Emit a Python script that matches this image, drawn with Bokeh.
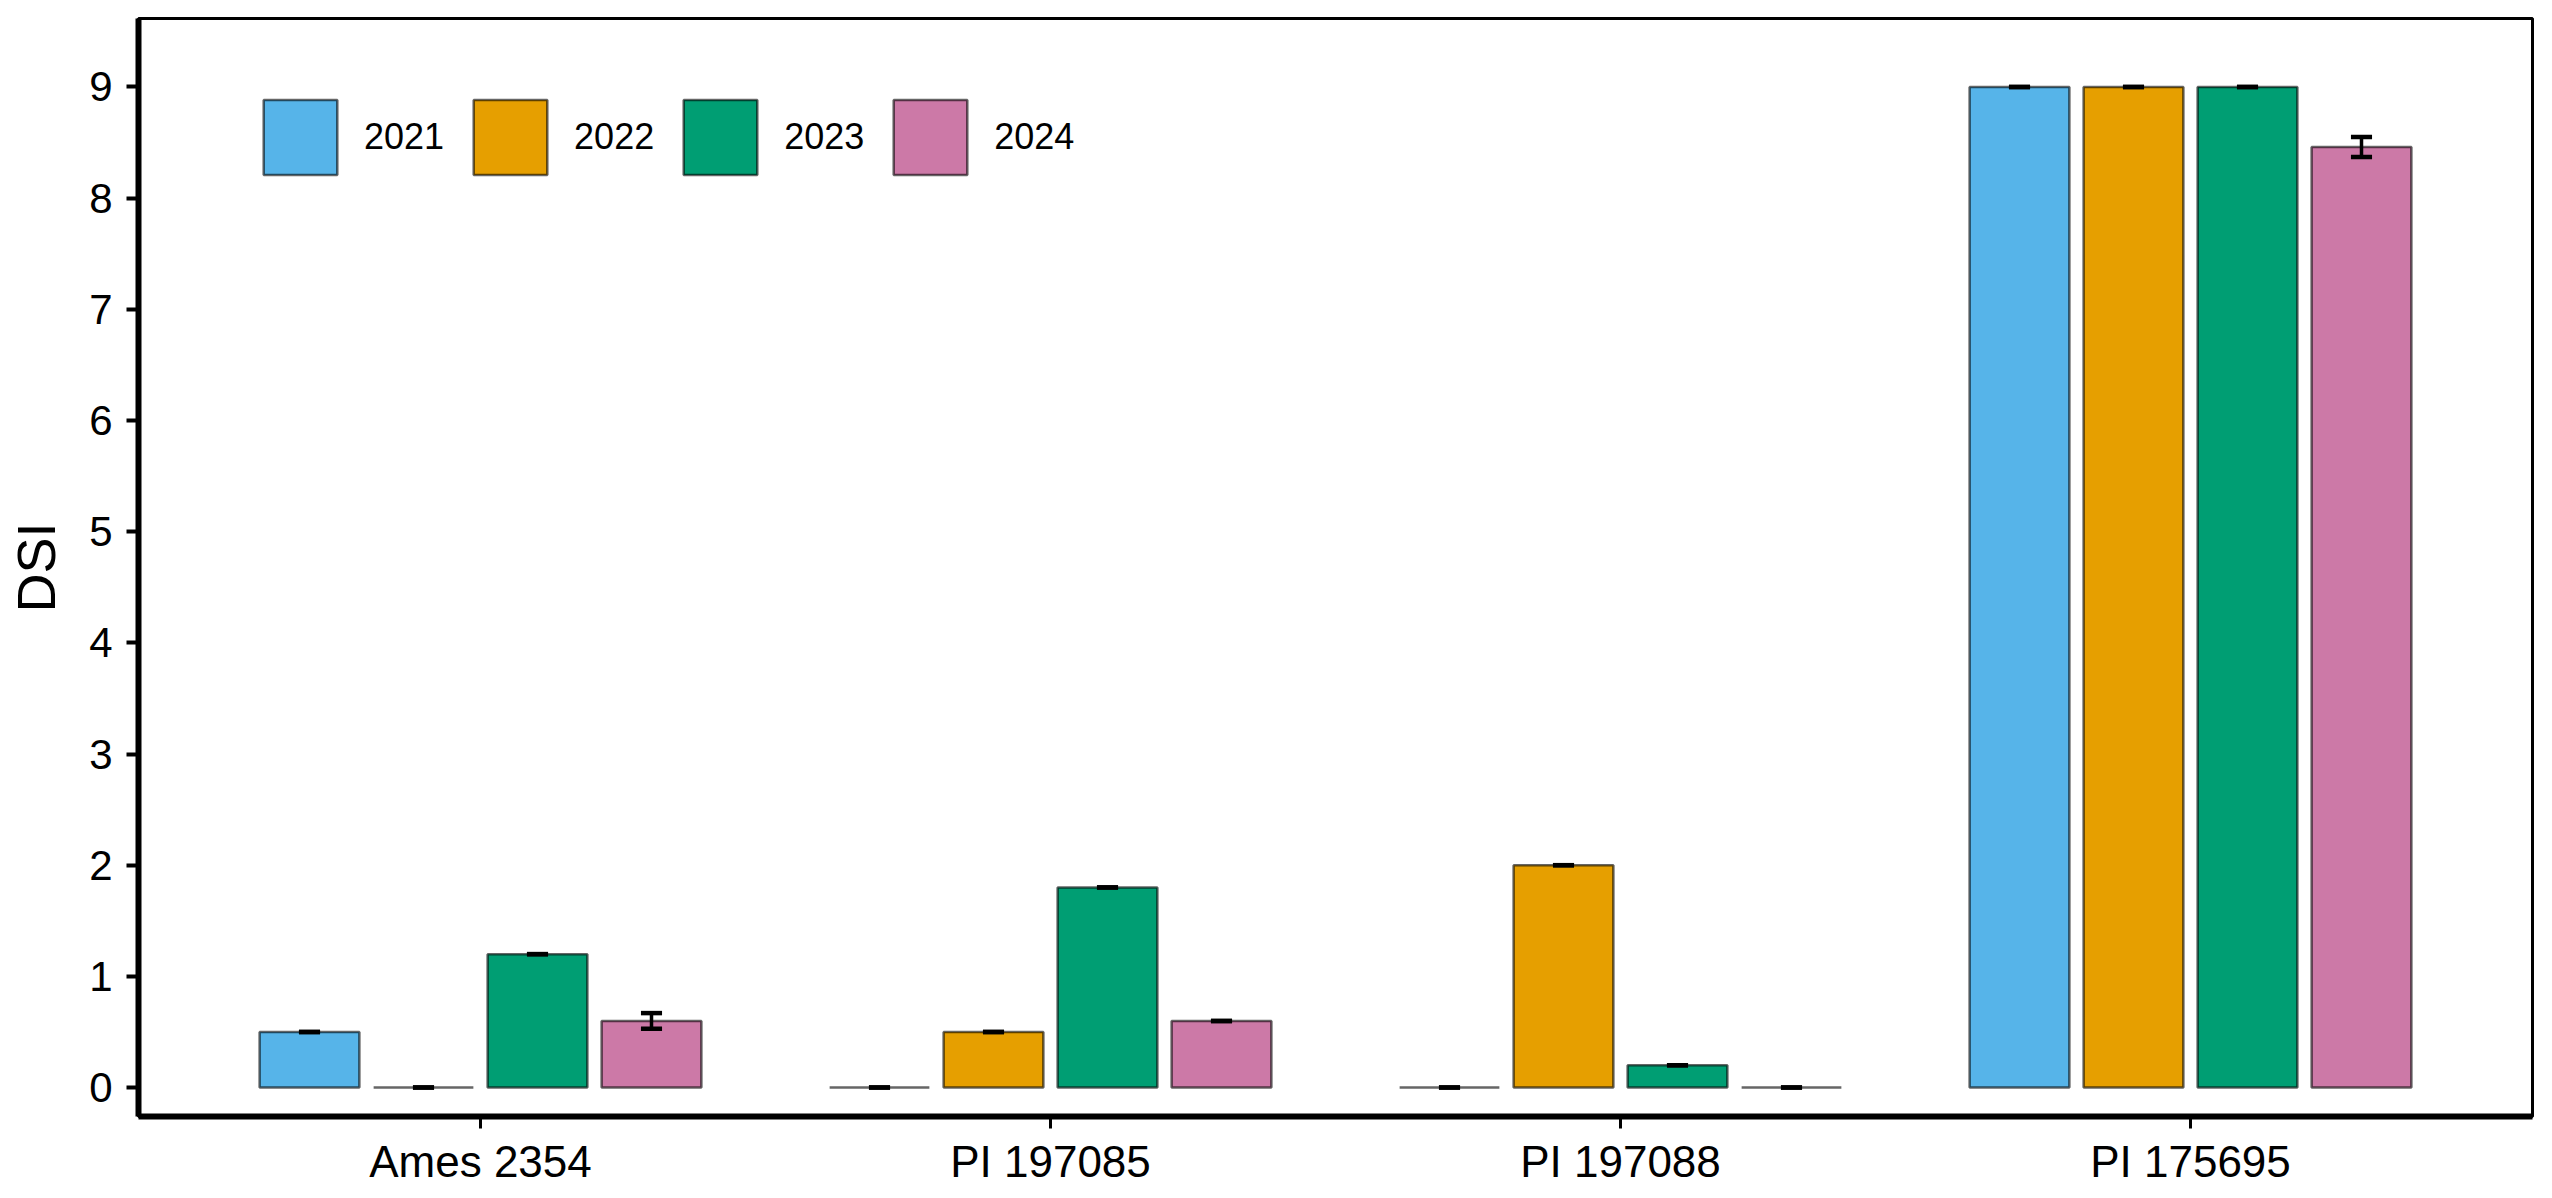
from bokeh.plotting import figure
from bokeh.models import FixedTicker, Legend, LegendItem, ColumnDataSource, Range1d
from bokeh.embed import file_html
from bokeh.resources import INLINE

# ---- data ----
accessions = ["Ames 2354", "PI 197085", "PI 197088", "PI 175695"]
years = ["2021", "2022", "2023", "2024"]
dsi_2021 = [0.5, 0.0, 0.0, 9.0]
dsi_2022 = [0.0, 0.5, 2.0, 9.0]
dsi_2023 = [1.2, 1.8, 0.2, 9.0]
dsi_2024 = [0.6, 0.6, 0.0, 8.46]
se_2021 = [0.0, 0.0, 0.0, 0.0]
se_2022 = [0.0, 0.0, 0.0, 0.0]
se_2023 = [0.0, 0.0, 0.0, 0.0]
se_2024 = [0.07, 0.0, 0.0, 0.09]
y_ticks = [0, 1, 2, 3, 4, 5, 6, 7, 8, 9]

series = [dsi_2021, dsi_2022, dsi_2023, dsi_2024]
errors = [se_2021, se_2022, se_2023, se_2024]
colors = ["#56B4E9", "#E69F00", "#009E73", "#CC79A7"]

FONT = "Liberation Sans"
dodge = [-0.3, -0.1, 0.1, 0.3]
bar_w = 0.175
cap_half = 0.0185

p = figure(width=2544, height=1188, output_backend="svg", toolbar_location=None,
           x_range=Range1d(0.4, 4.6), y_range=Range1d(-0.26, 9.615),
           min_border_left=138, min_border_right=12, min_border_top=18, min_border_bottom=68)
p.background_fill_color = "white"
p.border_fill_color = "white"
p.outline_line_color = "black"
p.outline_line_width = 3
p.xgrid.visible = False
p.ygrid.visible = False

items = []
for i, (vals, errs, col, yr) in enumerate(zip(series, errors, colors, years)):
    xs = [k + 1 + dodge[i] for k in range(len(accessions))]
    src = ColumnDataSource(dict(x=xs, top=vals,
                                lo=[v - e for v, e in zip(vals, errs)],
                                hi=[v + e for v, e in zip(vals, errs)],
                                x0=[x - cap_half for x in xs],
                                x1=[x + cap_half for x in xs]))
    r = p.vbar(x="x", top="top", bottom=0, width=bar_w, source=src,
               fill_color=col, line_color="black", line_alpha=0.6, line_width=2.5)
    items.append(LegendItem(label=yr, renderers=[r]))
    p.segment(x0="x", x1="x", y0="lo", y1="hi", source=src, line_color="black", line_width=3.5)
    p.segment(x0="x0", x1="x1", y0="hi", y1="hi", source=src, line_color="black", line_width=4.5)
    p.segment(x0="x0", x1="x1", y0="lo", y1="lo", source=src, line_color="black", line_width=4.5)

legend = Legend(items=items, orientation="horizontal", location=(116, 932),
                glyph_width=92, glyph_height=94, label_standoff=18, spacing=20,
                padding=0, margin=0, border_line_color=None, background_fill_alpha=0,
                label_text_font=FONT, label_text_font_size="36px", label_text_color="black")
p.add_layout(legend)

# axes
p.xaxis.ticker = FixedTicker(ticks=[1, 2, 3, 4])
p.xaxis.major_label_overrides = {k + 1: name for k, name in enumerate(accessions)}
p.yaxis.ticker = FixedTicker(ticks=y_ticks)
for ax in (p.xaxis, p.yaxis):
    ax.axis_line_width = 6
    ax.axis_line_color = "black"
    ax.major_tick_line_width = 4
    ax.major_tick_line_color = "black"
    ax.major_tick_out = 12
    ax.major_tick_in = 0
    ax.minor_tick_line_color = None
    ax.major_label_text_font = FONT
    ax.major_label_text_color = "black"
p.xaxis.major_tick_line_width = 3
p.xaxis.major_label_text_font_size = "44px"
p.xaxis.major_label_standoff = 8
p.yaxis.major_label_text_font_size = "42px"
p.yaxis.major_label_standoff = 14
p.yaxis.axis_label = "DSI"
p.yaxis.axis_label_text_font = FONT
p.yaxis.axis_label_text_font_size = "54px"
p.yaxis.axis_label_text_font_style = "normal"
p.yaxis.axis_label_text_color = "black"
p.yaxis.axis_label_standoff = 20

open("out.html", "w").write(file_html(p, INLINE))
